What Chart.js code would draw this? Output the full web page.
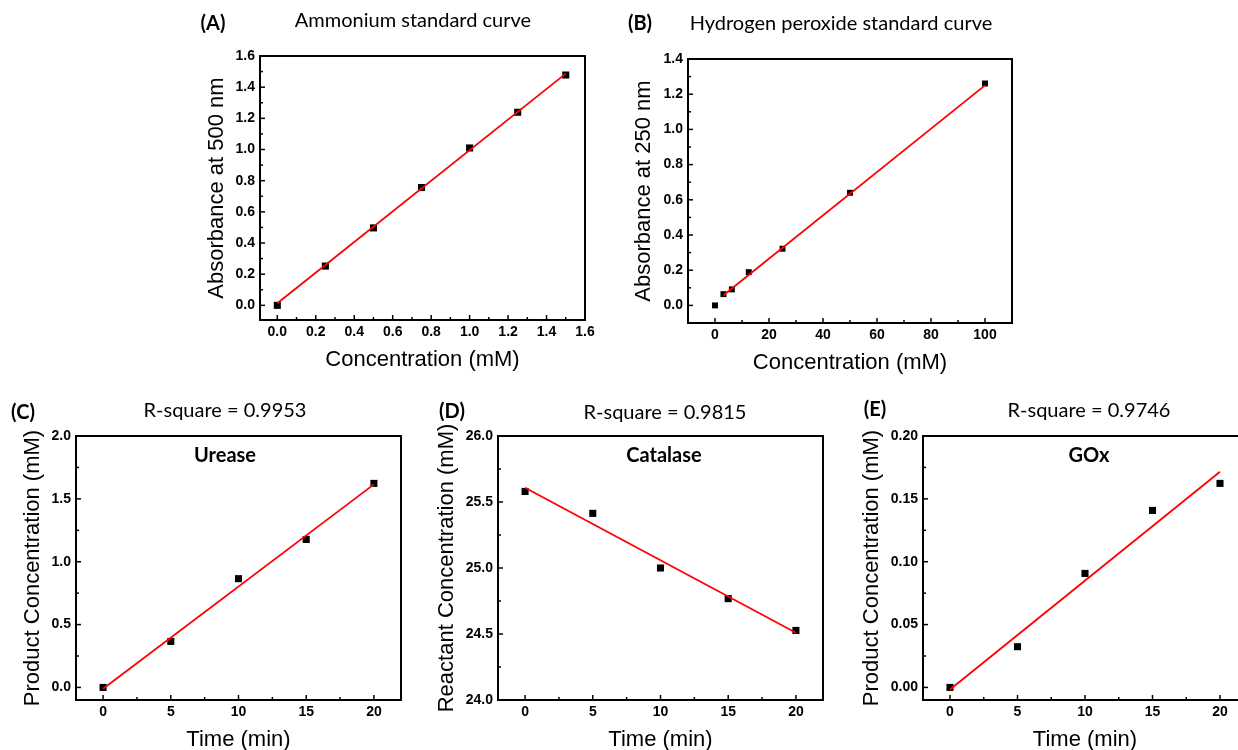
<!DOCTYPE html>
<html>
<head>
<meta charset="utf-8">
<script src="https://cdn.jsdelivr.net/npm/chart.js@4.4.0/dist/chart.umd.min.js"></script>
<style>
  html, body { margin: 0; padding: 0; background: #fff; overflow: hidden; width: 1238px; height: 750px; }
  canvas.panel { position: absolute; }
</style>
</head>
<body>
<canvas id="chartA" class="panel"></canvas>
<canvas id="chartB" class="panel"></canvas>
<canvas id="chartC" class="panel"></canvas>
<canvas id="chartD" class="panel"></canvas>
<canvas id="chartE" class="panel"></canvas>
<script>
// (A) ammonium standard curve
const ammoniumConc = [0, 0.25, 0.5, 0.75, 1.0, 1.25, 1.5];
const ammoniumAbs = [0.0, 0.252, 0.497, 0.756, 1.010, 1.239, 1.478];
const ammoniumFitX = [0, 1.5];
const ammoniumFitY = [0.013, 1.487];
const ammoniumTicksX = [0, 0.2, 0.4, 0.6, 0.8, 1.0, 1.2, 1.4, 1.6];
const ammoniumTicksY = [0, 0.2, 0.4, 0.6, 0.8, 1.0, 1.2, 1.4, 1.6];

// (B) hydrogen peroxide standard curve
const peroxideConc = [0, 3.125, 6.25, 12.5, 25, 50, 100];
const peroxideAbs = [0.0, 0.064, 0.091, 0.189, 0.322, 0.640, 1.261];
const peroxideFitX = [3.125, 100];
const peroxideFitY = [0.058, 1.25];
const peroxideTicksX = [0, 20, 40, 60, 80, 100];
const peroxideTicksY = [0, 0.2, 0.4, 0.6, 0.8, 1.0, 1.2, 1.4];

// (C)-(E) enzyme kinetics, sampled every 5 min
const timeMin = [0, 5, 10, 15, 20];
const timeTicks = [0, 5, 10, 15, 20];
const fitTime = [0, 20];

const ureaseProduct = [0.0, 0.366, 0.865, 1.177, 1.623];
const ureaseFit = [-0.01, 1.615];
const ureaseTicksY = [0, 0.5, 1.0, 1.5, 2.0];

const catalaseReactant = [25.58, 25.414, 25.0, 24.768, 24.527];
const catalaseFit = [25.608, 24.51];
const catalaseTicksY = [24.0, 24.5, 25.0, 25.5, 26.0];

const goxProduct = [0.0, 0.0324, 0.0907, 0.1408, 0.1623];
const goxFit = [-0.0016, 0.1716];
const goxTicksY = [0, 0.05, 0.10, 0.15, 0.20];

const panelLetters = ['(A)', '(B)', '(C)', '(D)', '(E)'];
const panelTitles = ['Ammonium standard curve', 'Hydrogen peroxide standard curve',
  'R-square = 0.9953', 'R-square = 0.9815', 'R-square = 0.9746'];
const enzymeNames = ['Urease', 'Catalase', 'GOx'];

Chart.defaults.font.family = "'Liberation Sans', Arial, sans-serif";
Chart.defaults.color = '#000';

const TITLE_FONT = 22;
const TITLE_LH = TITLE_FONT * 1.2;

// inward major/minor ticks plus the closed frame around the plot
const frameTicks = {
  id: 'frameTicks',
  afterDraw(chart) {
    const {ctx, chartArea: a} = chart;
    ctx.save();
    ctx.strokeStyle = '#000';
    ctx.lineWidth = 2;
    ctx.strokeRect(a.left, a.top, a.right - a.left, a.bottom - a.top);
    ctx.lineWidth = 1.5;
    ['x', 'y'].forEach(id => {
      const s = chart.scales[id];
      const vals = s.ticks.map(t => t.value);
      const step = vals[1] - vals[0];
      const minors = [vals[0] - step / 2];
      for (let i = 0; i < vals.length; i++) minors.push(vals[i] + step / 2);
      const mark = (v, len) => {
        if (v <= s.min || v >= s.max) return;
        const p = s.getPixelForValue(v);
        ctx.beginPath();
        if (id === 'x') { ctx.moveTo(p, a.bottom); ctx.lineTo(p, a.bottom - len); }
        else { ctx.moveTo(a.left, p); ctx.lineTo(a.left + len, p); }
        ctx.stroke();
      };
      vals.forEach(v => mark(v, 5));
      minors.forEach(v => mark(v, 3));
    });
    ctx.restore();
  }
};

// panel letter, heading and enzyme name
const panelText = {
  id: 'panelText',
  afterDraw(chart, args, opts) {
    const ctx = chart.ctx;
    ctx.save();
    ctx.fillStyle = '#000';
    ctx.textAlign = 'center';
    ctx.textBaseline = 'middle';
    opts.items.forEach(it => {
      ctx.font = (it.bold ? 'bold ' : '') + it.size + 'px Lato, sans-serif';
      ctx.fillText(it.text, it.x - opts.ox, it.y - opts.oy);
    });
    ctx.restore();
  }
};

function pts(xs, ys) {
  return xs.map((x, i) => ({x: x, y: ys[i]}));
}

function makePanel(p) {
  const [cx, cy, cw, ch] = p.canvas;
  const [L, T, R, B] = p.plot;
  const el = document.getElementById(p.id);
  el.width = cw; el.height = ch;
  el.style.left = cx + 'px'; el.style.top = cy + 'px';
  el.style.width = cw + 'px'; el.style.height = ch + 'px';

  const axisLeft = p.yTitleX - TITLE_LH / 2;
  const yWidth = L - axisLeft;
  const xHeight = cy + ch - B;
  const xTitlePad = cy + ch - TITLE_LH / 2 - p.xTitleY;

  const tickFont = {size: 14, weight: 'bold'};
  const titleFont = {size: TITLE_FONT, lineHeight: 1.2};

  new Chart(el, {
    type: 'scatter',
    data: {
      datasets: [
        {
          data: pts(p.xs, p.ys),
          pointStyle: 'rect',
          pointRadius: p.marker,
          pointHoverRadius: p.marker,
          backgroundColor: '#000',
          borderWidth: 0,
          order: 2
        },
        {
          data: pts(p.fitX, p.fitY),
          showLine: true,
          borderColor: '#ff0000',
          borderWidth: 1.8,
          pointRadius: 0,
          pointHoverRadius: 0,
          order: 1
        }
      ]
    },
    options: {
      responsive: false,
      animation: false,
      events: [],
      layout: {padding: {left: axisLeft - cx, top: T - cy, right: cx + cw - R, bottom: 0}},
      plugins: {
        legend: {display: false},
        tooltip: {enabled: false},
        panelText: {items: p.texts, ox: cx, oy: cy}
      },
      scales: {
        x: {
          type: 'linear',
          min: p.xRange[0], max: p.xRange[1],
          afterBuildTicks: s => { s.ticks = p.xTicks.map(v => ({value: v})); },
          afterFit: s => { s.height = xHeight; },
          grid: {display: false, drawTicks: false},
          border: {display: false},
          ticks: {font: tickFont, padding: 4, maxRotation: 0, callback: v => p.xFmt(v)},
          title: {display: true, text: p.xTitle, font: titleFont, padding: {top: 0, bottom: xTitlePad}}
        },
        y: {
          type: 'linear',
          min: p.yRange[0], max: p.yRange[1],
          afterBuildTicks: s => { s.ticks = p.yTicks.map(v => ({value: v})); },
          afterFit: s => { s.width = yWidth; },
          grid: {display: false, drawTicks: false},
          border: {display: false},
          ticks: {font: tickFont, padding: 5, callback: v => p.yFmt(v)},
          title: {display: true, text: p.yTitle, font: titleFont, padding: {top: 0, bottom: 0}}
        }
      }
    },
    plugins: [frameTicks, panelText]
  });
}

const f0 = v => v.toFixed(0);
const f1 = v => v.toFixed(1);
const f2 = v => v.toFixed(2);

makePanel({
  id: 'chartA', canvas: [190, 0, 430, 380], plot: [260, 56, 585, 320], yTitleX: 217, xTitleY: 360,
  xs: ammoniumConc, ys: ammoniumAbs, fitX: ammoniumFitX, fitY: ammoniumFitY, marker: 5,
  xRange: [-0.09, 1.6], yRange: [-0.094, 1.6], xTicks: ammoniumTicksX, yTicks: ammoniumTicksY,
  xFmt: f1, yFmt: f1, xTitle: 'Concentration (mM)', yTitle: 'Absorbance at 500 nm',
  texts: [
    {text: panelLetters[0], x: 213, y: 24, size: 20, bold: true},
    {text: panelTitles[0], x: 413, y: 21, size: 20}
  ]
});

makePanel({
  id: 'chartB', canvas: [620, 0, 430, 385], plot: [688, 59, 1012, 323], yTitleX: 644, xTitleY: 363,
  xs: peroxideConc, ys: peroxideAbs, fitX: peroxideFitX, fitY: peroxideFitY, marker: 4.2,
  xRange: [-10, 110], yRange: [-0.1, 1.4], xTicks: peroxideTicksX, yTicks: peroxideTicksY,
  xFmt: f0, yFmt: f1, xTitle: 'Concentration (mM)', yTitle: 'Absorbance at 250 nm',
  texts: [
    {text: panelLetters[1], x: 640, y: 24, size: 20, bold: true},
    {text: panelTitles[1], x: 841, y: 24, size: 20}
  ]
});

makePanel({
  id: 'chartC', canvas: [0, 396, 420, 360], plot: [76, 436, 401, 700], yTitleX: 33, xTitleY: 740,
  xs: timeMin, ys: ureaseProduct, fitX: fitTime, fitY: ureaseFit, marker: 5,
  xRange: [-2, 22], yRange: [-0.1, 2.0], xTicks: timeTicks, yTicks: ureaseTicksY,
  xFmt: f0, yFmt: f1, xTitle: 'Time (min)', yTitle: 'Product Concentration (mM)',
  texts: [
    {text: panelLetters[2], x: 23, y: 413, size: 20, bold: true},
    {text: panelTitles[2], x: 225, y: 411, size: 20},
    {text: enzymeNames[0], x: 225, y: 456, size: 20, bold: true}
  ]
});

makePanel({
  id: 'chartD', canvas: [420, 396, 420, 360], plot: [498, 436, 823, 700], yTitleX: 447, xTitleY: 740,
  xs: timeMin, ys: catalaseReactant, fitX: fitTime, fitY: catalaseFit, marker: 5,
  xRange: [-2, 22], yRange: [24, 26], xTicks: timeTicks, yTicks: catalaseTicksY,
  xFmt: f0, yFmt: f1, xTitle: 'Time (min)', yTitle: 'Reactant Concentration (mM)',
  texts: [
    {text: panelLetters[3], x: 452, y: 412, size: 20, bold: true},
    {text: panelTitles[3], x: 665, y: 413, size: 20},
    {text: enzymeNames[1], x: 664, y: 456, size: 20, bold: true}
  ]
});

makePanel({
  id: 'chartE', canvas: [840, 396, 430, 360], plot: [923, 436, 1247, 700], yTitleX: 872, xTitleY: 740,
  xs: timeMin, ys: goxProduct, fitX: fitTime, fitY: goxFit, marker: 5,
  xRange: [-2, 22], yRange: [-0.01, 0.2], xTicks: timeTicks, yTicks: goxTicksY,
  xFmt: f0, yFmt: f2, xTitle: 'Time (min)', yTitle: 'Product Concentration (mM)',
  texts: [
    {text: panelLetters[4], x: 875, y: 410, size: 20, bold: true},
    {text: panelTitles[4], x: 1089, y: 411, size: 20},
    {text: enzymeNames[2], x: 1089, y: 456, size: 20, bold: true}
  ]
});
</script>
</body>
</html>
